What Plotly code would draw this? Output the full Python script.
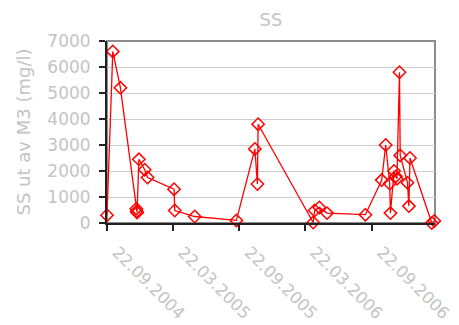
import plotly.graph_objects as go

# Sampling dates and suspended solids (SS) out of M3, mg/l
dates = [
    "2004-09-22", "2004-10-08", "2004-10-29", "2004-12-12", "2004-12-13",
    "2004-12-14", "2004-12-19", "2005-01-04", "2005-01-12", "2005-03-26",
    "2005-03-28", "2005-05-22", "2005-09-14", "2005-11-04", "2005-11-11",
    "2005-11-13", "2006-04-14", "2006-04-18", "2006-05-01", "2006-05-22",
    "2006-09-05", "2006-10-20", "2006-10-31", "2006-11-11", "2006-11-13",
    "2006-11-23", "2006-11-28", "2006-12-01", "2006-12-08", "2006-12-10",
    "2006-12-30", "2007-01-03", "2007-01-06", "2007-03-07", "2007-03-14",
]
ss_values = [
    300, 6600, 5200, 550, 450,
    400, 2450, 2050, 1750, 1300,
    480, 250, 100, 2850, 1500,
    3800, 20, 480, 600, 380,
    320, 1650, 3000, 1520, 380,
    2000, 1800, 1700, 5800, 2600,
    1550, 650, 2500, 0, 80,
]

tick_dates = ["2004-09-22", "2005-03-22", "2005-09-22", "2006-03-22", "2006-09-22"]
tick_labels = ["22.09.2004", "22.03.2005", "22.09.2005", "22.03.2006", "22.09.2006"]
y_ticks = [0, 1000, 2000, 3000, 4000, 5000, 6000, 7000]

FONT = "DejaVu Sans"
GREY_TEXT = "#c4c4c4"

fig = go.Figure()
fig.add_trace(go.Scatter(
    x=dates, y=ss_values,
    mode="lines+markers",
    line=dict(color="#ff0000", width=1.3),
    marker=dict(symbol="diamond-open", size=9.5, color="#ff0000",
                line=dict(color="#ff0000", width=1.5)),
    cliponaxis=False,
    showlegend=False,
))

# grey frame around the plotting area (top and right edges visible)
fig.add_shape(type="rect", xref="x domain", yref="y domain",
              x0=0, x1=1, y0=0, y1=1,
              line=dict(color="#8c8c8c", width=2), layer="below")

fig.update_layout(
    width=459, height=325,
    margin=dict(l=107, r=24, t=41, b=102, autoexpand=False),
    paper_bgcolor="white", plot_bgcolor="white",
    font=dict(family=FONT, color=GREY_TEXT, size=17),
    title=dict(text="SS", x=(107 + 435) / 2 / 459, xanchor="center",
               y=1 - 20 / 325, yanchor="middle",
               font=dict(family=FONT, size=18, color=GREY_TEXT)),
)

fig.update_xaxes(
    type="date",
    range=["2004-09-22", "2007-03-16"],
    tickvals=tick_dates, ticktext=tick_labels,
    tickangle=45,
    ticks="outside", ticklen=6, tickwidth=1.5, tickcolor="#222222",
    showline=True, linecolor="#222222", linewidth=2,
    showgrid=False, zeroline=False,
    automargin=False,
    ticklabelstandoff=5, ticklabelshift=10,
    tickfont=dict(family=FONT, size=16.5, color=GREY_TEXT),
)
fig.update_yaxes(
    range=[0, 7000],
    tickvals=y_ticks,
    ticks="outside", ticklen=6, tickwidth=1.5, tickcolor="#222222",
    showline=True, linecolor="#222222", linewidth=2,
    showgrid=True, gridcolor="#cccccc", gridwidth=1.2,
    zeroline=False,
    automargin=False,
    ticklabelstandoff=5,
    tickfont=dict(family=FONT, size=17, color=GREY_TEXT),
    title=dict(text="SS ut av M3 (mg/l)", standoff=12,
               font=dict(family=FONT, size=18, color=GREY_TEXT)),
)

fig.write_html("out.html")
